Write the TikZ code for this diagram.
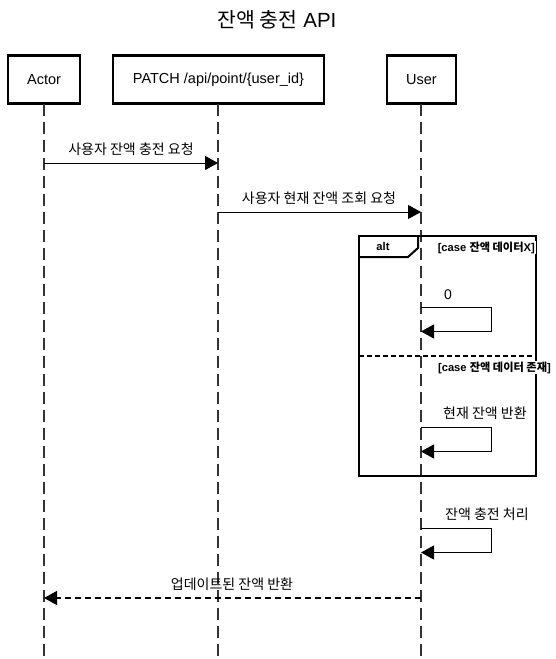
\documentclass[tikz,border=0pt]{standalone}
\usepackage{fontspec}
\setmainfont{Liberation Sans}
\newfontfamily\kr{Noto Sans CJK KR}
\usetikzlibrary{arrows.meta}
\tikzset{
  x=1pt, y=-1pt,
  partbox/.style={draw=black, line width=2.2pt, minimum height=48pt, inner sep=0pt, font=\fontsize{14.5}{16}\selectfont, fill=white},
  lifeline/.style={line width=1.5pt, draw=black!80, dash pattern=on 12pt off 6pt},
  msg/.style={line width=1pt, -{Triangle[length=13pt,width=14pt]}},
  retmsg/.style={line width=1.2pt, dash pattern=on 6pt off 4pt, -{Triangle[length=13pt,width=14pt]}},
  msglbl/.style={font=\fontsize{14}{16}\selectfont\kr, inner sep=0pt},
  altlbl/.style={font=\fontsize{11.2}{12}\selectfont\bfseries, inner sep=1pt, fill=white},
  framestyle/.style={line width=2pt},
}
\begin{document}
\begin{tikzpicture}
\useasboundingbox (0,0) rectangle (555,659);
% title
\node[font=\fontsize{20.5}{24}\selectfont] (title) at (277,20) {{\kr 잔액 충전} API};
% participants
\node[partbox, minimum width=72pt] (actor) at (44,79.5) {Actor};
\node[partbox, minimum width=211pt] (patch) at (218.5,79.5) {PATCH /api/point/\{user\_id\}};
\node[partbox, minimum width=69pt] (user) at (421.5,79.5) {User};
% lifeline ends
\coordinate (aEnd) at (44,659);
\coordinate (pEnd) at (218,659);
\coordinate (uEnd) at (421,659);
\draw[lifeline] (44,103.5) -- (aEnd);
\draw[lifeline] (218,103.5) -- (pEnd);
\draw[lifeline] (421,103.5) -- (uEnd);
% alt frame
\coordinate (fTL) at (359,235.5);
\coordinate (fBR) at (536,475.5);
\draw[framestyle] (fTL) rectangle (fBR);
\draw[framestyle] (418,235.5) -- (418,248) -- (408,257) -- (359,257);
\node[font=\fontsize{11.2}{12}\selectfont\bfseries] (altname) at (383,246) {alt};
\draw[framestyle, dash pattern=on 5pt off 3pt] (359,355.5) -- (536,355.5);
\node[altlbl, anchor=east] (case1) at (536,247.5) {[case {\kr 잔액 데이터}X]};
\node[altlbl, anchor=east] (case2) at (552,367.5) {[case {\kr 잔액 데이터 존재}]};
% message 1
\coordinate (m1a) at (44,163);
\coordinate (m1b) at (218,163);
\draw[msg] (m1a) -- (m1b);
\node[msglbl] (l1) at (131,149) {사용자 잔액 충전 요청};
% message 2
\coordinate (m2a) at (218,212);
\coordinate (m2b) at (421,212);
\draw[msg] (m2a) -- (m2b);
\node[msglbl] (l2) at (319,198) {사용자 현재 잔액 조회 요청};
% self message 0
\coordinate (s1a) at (421,307);
\coordinate (s1b) at (421,331.5);
\draw[msg] (s1a) -- (491,307) -- (491,331.5) -- (s1b);
\node[font=\fontsize{14}{15}\selectfont, inner sep=0pt, anchor=west] (l3) at (444,295) {0};
% self message 2
\coordinate (s2a) at (421,427);
\coordinate (s2b) at (421,451.5);
\draw[msg] (s2a) -- (491,427) -- (491,451.5) -- (s2b);
\node[msglbl, anchor=west] (l4) at (443,413) {현재 잔액 반환};
% self message 3
\coordinate (s3a) at (421,528);
\coordinate (s3b) at (421,552.5);
\draw[msg] (s3a) -- (491,528) -- (491,552.5) -- (s3b);
\node[msglbl, anchor=west] (l5) at (445,514) {잔액 충전 처리};
% return
\coordinate (r1a) at (421,598);
\coordinate (r1b) at (44,598);
\draw[retmsg] (r1a) -- (r1b);
\node[msglbl] (l6) at (232,584) {업데이트된 잔액 반환};
\end{tikzpicture}
\end{document}
